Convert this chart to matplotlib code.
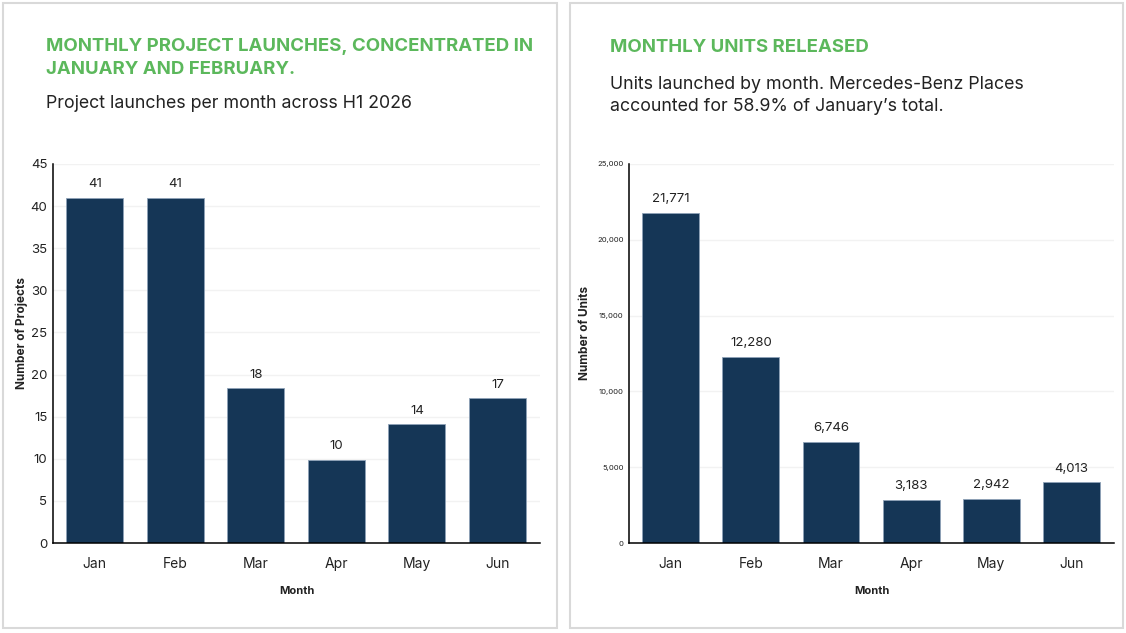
import matplotlib
matplotlib.use("Agg")
import matplotlib.pyplot as plt
from matplotlib.patches import Rectangle
from matplotlib.ticker import FuncFormatter

# data
months = ["Jan", "Feb", "Mar", "Apr", "May", "Jun"]
projects = [41, 41, 18.35, 9.9, 14.1, 17.2]          # bar heights as drawn
project_labels = ["41", "41", "18", "10", "14", "17"]
units = [21771, 12280, 6660, 2850, 2920, 4013]       # bar heights as drawn
unit_labels = ["21,771", "12,280", "6,746", "3,183", "2,942", "4,013"]

GREEN = "#5cb85c"
NAVY = "#153656"
INK = "#222222"
BORDER = "#d9d9d9"
GRID = "#f2f2f2"

plt.rcParams["font.family"] = ["Inter", "DejaVu Sans"]

W, H = 1126, 633
fig = plt.figure(figsize=(W / 100, H / 100), dpi=100)


def fx(x):
    return x / W


def fy(y):
    return 1 - y / H


def panel(x0, x1):
    fig.patches.append(Rectangle((fx(x0), fy(628)), fx(x1 - x0), (628 - 3) / H,
                                 transform=fig.transFigure, facecolor="white",
                                 edgecolor=BORDER, lw=1.5, zorder=-5))


def make_axes(x0, x1, y0=164, y1=543):
    ax = fig.add_axes([fx(x0), fy(y1), fx(x1 - x0), (y1 - y0) / H])
    ax.set_zorder(2)
    ax.patch.set_alpha(0)
    return ax


def style(ax, ymax, step, tick_fs, fmt=None):
    ax.set_xlim(-0.52, 5.53)
    ax.set_ylim(0, ymax)
    ax.set_yticks(range(0, ymax + 1, step))
    if fmt:
        ax.yaxis.set_major_formatter(FuncFormatter(fmt))
    for s in ("top", "right"):
        ax.spines[s].set_visible(False)
    for s in ("left", "bottom"):
        ax.spines[s].set_color("black")
        ax.spines[s].set_linewidth(1.1)
    ax.grid(axis="y", color=GRID, lw=1)
    ax.set_axisbelow(True)
    ax.tick_params(axis="y", length=0, labelsize=tick_fs, colors=INK, pad=4)
    ax.tick_params(axis="x", length=0, labelsize=10, colors=INK, pad=10)
    ax.set_xlabel("Month", fontsize=8, weight="bold", color=INK, labelpad=11)


def bars(ax, vals, labels):
    b = ax.bar(months, vals, width=0.71, color=NAVY, edgecolor="#8ea2b8", lw=0.6)
    for rect, t in zip(b, labels):
        ax.annotate(t, (rect.get_x() + rect.get_width() / 2, rect.get_height()),
                    xytext=(0, 9.8), textcoords="offset points", ha="center",
                    va="center", fontsize=9.5, color=INK)


# left panel
panel(3, 557)
fig.text(fx(46), fy(58), "MONTHLY PROJECT LAUNCHES, CONCENTRATED IN\nJANUARY AND FEBRUARY.",
         fontsize=13.4, weight="bold", color=GREEN, va="center", ha="left",
         linespacing=1.4)
fig.text(fx(46), fy(103), "Project launches per month across H1 2026",
         fontsize=12.8, color=INK, va="center", ha="left")
ax1 = make_axes(53, 540)
bars(ax1, projects, project_labels)
style(ax1, 45, 5, 9.5)
ax1.set_ylabel("Number of Projects", fontsize=8.5, weight="bold", color=INK)
ax1.yaxis.set_label_coords(-0.052, 0.554)

# right panel
panel(570, 1123)
fig.text(fx(610), fy(47), "MONTHLY UNITS RELEASED",
         fontsize=13.4, weight="bold", color=GREEN, va="center", ha="left")
fig.text(fx(610), fy(95.5), "Units launched by month. Mercedes-Benz Places\naccounted for 58.9% of January\u2019s total.",
         fontsize=12.8, color=INK, va="center", ha="left", linespacing=1.4)
ax2 = make_axes(629, 1114)
bars(ax2, units, unit_labels)
style(ax2, 25000, 5000, 5.5, fmt=lambda v, p: f"{int(v):,}")
ax2.set_ylabel("Number of Units", fontsize=8.5, weight="bold", color=INK)
ax2.yaxis.set_label_coords(-0.079, 0.554)

fig.savefig("out.png", dpi=100)
